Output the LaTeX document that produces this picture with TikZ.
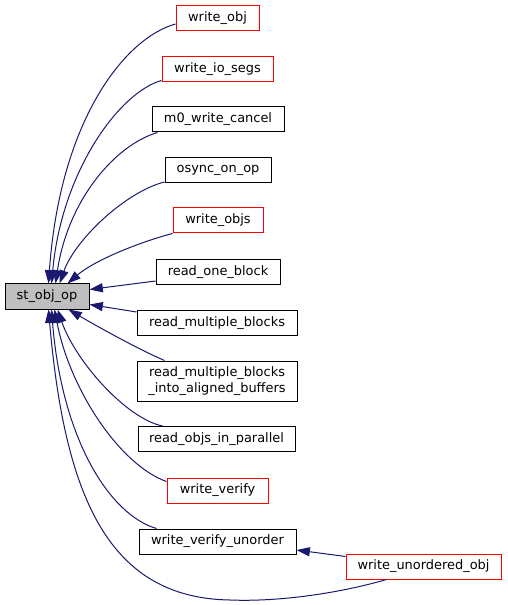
\documentclass[tikz,border=0pt]{standalone}
\usepackage{fontspec}
\setmainfont{DejaVu Sans}
\usetikzlibrary{arrows.meta,calc}
\definecolor{edgeblue}{HTML}{191970}
\definecolor{nodegrey}{HTML}{BFBFBF}
\begin{document}
\begin{tikzpicture}[x=0.75pt,y=-0.75pt,
  box/.style={draw=black,line width=0.75pt,inner sep=0pt,minimum height=18.75pt,
    font=\fontsize{9.7}{12}\selectfont,align=center},
  redbox/.style={box,draw=red},
  edge/.style={draw=edgeblue,line width=0.75pt,-{Triangle[length=10pt,width=6.8pt]}},
  ]
\useasboundingbox (0,0) rectangle (507,605);
\fill[white] (0,0) rectangle (507,605);
\node[box,fill=nodegrey,minimum width=63pt,minimum height=18.75pt] (st) at (47,296.5) {st\_obj\_op};
\node[redbox,minimum width=62.25pt] (wo) at (217.5,18.5) {write\_obj};
\node[redbox,minimum width=83.25pt] (wio) at (217.5,69.5) {write\_io\_segs};
\node[box,minimum width=99pt] (m0) at (218,119.5) {m0\_write\_cancel};
\node[box,minimum width=79.5pt] (os) at (218,170) {osync\_on\_op};
\node[redbox,minimum width=67.5pt] (wobjs) at (218,220.5) {write\_objs};
\node[box,minimum width=93pt] (rob) at (218,272) {read\_one\_block};
\node[box,minimum width=120pt] (rmb) at (217,323) {read\_multiple\_blocks};
\node[box,minimum width=120pt,minimum height=30pt] (rmba) at (217,381) {read\_multiple\_blocks\\\_into\_aligned\_buffers};
\node[box,minimum width=117.75pt] (roip) at (216.5,439) {read\_objs\_in\_parallel};
\node[redbox,minimum width=75.75pt] (wv) at (217.5,490.5) {write\_verify};
\node[box,minimum width=117.75pt] (wvu) at (217.5,541.5) {write\_verify\_unorder};
\node[redbox,minimum width=116.25pt] (wuo) at (423.5,566.5) {write\_unordered\_obj};

\draw[edge] ($(wo.west)+(0,5.5)$) .. controls (125,38) and (60,120) .. ($(st.north west)+(44,0)$);
\draw[edge] ($(wio.south west)+(0,-2)$) .. controls (120,92) and (62,170) .. ($(st.north west)+(47,0)$);
\draw[edge] ($(m0.south west)+(6,0)$) .. controls (115,145) and (68,200) .. ($(st.north west)+(51,0)$);
\draw[edge] ($(os.south west)+(0,-1)$) .. controls (125,192) and (75,240) .. ($(st.north west)+(55,0)$);
\draw[edge] (wobjs.south west) .. controls (140,242) and (95,260) .. ($(st.north west)+(63,0)$);
\draw[edge] ($(rob.west)+(0,9)$) -- ($(st.north east)+(0,6)$);
\draw[edge] ($(rmb.north west)+(0,2)$) -- ($(st.south east)+(0,-5)$);
\draw[edge] ($(rmba.north west)+(28,0)$) .. controls (140,350) and (100,328) .. ($(st.south west)+(64,0)$);
\draw[edge] ($(roip.north west)+(25,0)$) .. controls (125,418) and (75,360) .. ($(st.south west)+(53,0)$);
\draw[edge] ($(wv.north west)+(0,4)$) .. controls (120,465) and (70,390) .. ($(st.south west)+(50,0)$);
\draw[edge] ($(wvu.north west)+(18,0)$) .. controls (110,515) and (62,440) .. ($(st.south west)+(47,0)$);
\draw[edge] ($(wuo.south west)+(41,0)$) .. controls (340,593) and (280,602) .. (230,600) .. controls (110,598) and (65,500) .. ($(st.south west)+(44,0)$);
\draw[edge] ($(wuo.north west)+(0,3)$) -- ($(wvu.east)+(0,8.5)$);
\end{tikzpicture}
\end{document}
